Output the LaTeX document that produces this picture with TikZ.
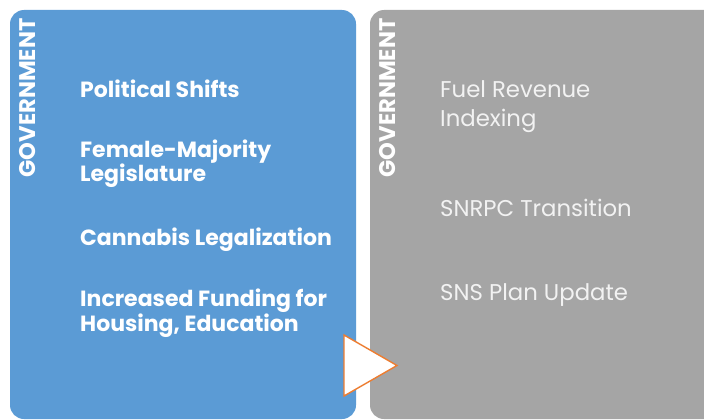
\documentclass[tikz,border=0pt]{standalone}
\usepackage{fontspec}
\setmainfont{Poppins}
\definecolor{panelblue}{HTML}{5B9BD5}
\definecolor{panelgray}{HTML}{A5A5A5}
\definecolor{arroworange}{HTML}{ED7D31}
\definecolor{softwhite}{HTML}{F2F2F2}
\tikzset{
  panel/.style={rounded corners=14pt},
  sidetitle/.style={rotate=90, inner sep=0pt, text=white, font=\bfseries\fontsize{22.6}{22.6}\selectfont},
  blueitem/.style={anchor=base west, inner sep=0pt, align=left, text=white,
    font=\bfseries\fontsize{22}{24.5}\selectfont},
  grayitem/.style={anchor=base west, inner sep=0pt, align=left, text=softwhite,
    font=\fontsize{22.8}{29.4}\selectfont},
  flowmark/.style={draw=arroworange, fill=white, line width=1.4pt, line join=miter}
}
\begin{document}
\begin{tikzpicture}[x=1pt,y=-1pt]
  \useasboundingbox (0,0) rectangle (704,420);
  \clip (0,0) rectangle (704,420);
  % two column panels
  \fill[panelblue, panel] (10,10) rectangle (356,419);
  \fill[panelgray, panel] (370,10) rectangle (730,419);
  % vertical headings
  \node[sidetitle] (gov1) at (27.5,98) {GOVERNMENT};
  \node[sidetitle] (gov2) at (387.5,98) {GOVERNMENT};
  % left column items (anchored on the baseline of the last line)
  \node[blueitem] (pol) at (80,97) {Political Shifts};
  \node[blueitem] (fem) at (80,181.7) {Female-Majority\\Legislature};
  \node[blueitem] (can) at (80,245) {Cannabis Legalization};
  \node[blueitem] (fund) at (80,331) {Increased Funding for\\Housing, Education};
  % right column items
  \node[grayitem] (fuel) at (440,126.7) {Fuel Revenue\\Indexing};
  \node[grayitem] (snrpc) at (440,216) {SNRPC Transition};
  \node[grayitem] (sns) at (440,300) {SNS Plan Update};
  % transition marker between the panels
  \draw[flowmark] (344,335) -- (397,365.5) -- (344,396) -- cycle;
\end{tikzpicture}
\end{document}
